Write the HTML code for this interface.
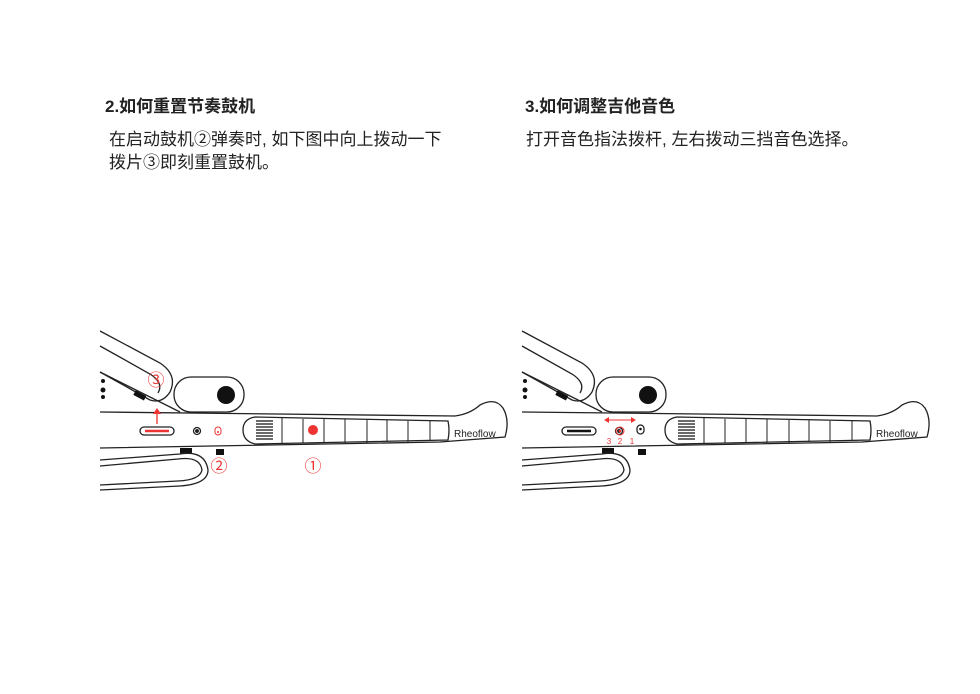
<!DOCTYPE html>
<html><head><meta charset="utf-8"><style>
body{margin:0;background:#fff;width:980px;height:694px;overflow:hidden;position:relative;font-family:"Liberation Sans","Noto Sans CJK SC",sans-serif;color:#222}
.t{position:absolute;font-weight:bold;font-size:17px}
.p{position:absolute;font-size:17px;line-height:23px}
</style></head><body>
<div class="t" style="left:105px;top:92px">2.如何重置节奏鼓机</div>
<div class="p" style="left:109px;top:128px">在启动鼓机②弹奏时, 如下图中向上拨动一下<br>拨片③即刻重置鼓机。</div>
<div class="t" style="left:525px;top:92px">3.如何调整吉他音色</div>
<div class="p" style="left:526px;top:128px">打开音色指法拨杆, 左右拨动三挡音色选择。</div>
<svg width="980" height="694" style="position:absolute;left:0;top:0" fill="none" stroke="#222" stroke-width="1.3">
<defs>
<g id="g">
<path d="M100 331 L160 363 Q178 375 170 392 Q162 404 150 400 L100 372"/>
<path d="M100 346 L150 374 Q164 383 158 393"/>
<path d="M100 372 L180 412"/>
<rect x="174" y="377" width="70" height="35" rx="17" fill="#fff"/>
<circle cx="226" cy="395" r="9" fill="#111" stroke="none"/>
<path d="M100 412 L455 416 Q470 414 480 405 Q495 397 503 408 Q510 420 505 437 L440 442 L100 448" fill="#fff"/>
<path d="M255 417 L448 421 Q450 430 448 440 L255 444 Q243 441 243 430 Q243 419 255 417Z"/>
<g stroke-width="1">
<path d="M282 418v25M303 419v24M324 419v24M345 419v24M367 420v23M387 420v22M408 421v21M430 421v20"/>
</g>
<g stroke="#111" stroke-width="1.3"><path d="M256 421h17M256 424h17M256 427h17M256 430h17M256 433h17M256 436h17M256 439h17"/></g>
<rect x="140" y="427" width="34" height="8" rx="4"/>
<circle cx="197" cy="431" r="3.5"/><circle cx="197" cy="431" r="1.3" fill="#111"/>
<text x="454" y="437" font-family="Liberation Sans" font-size="10" fill="#222" stroke="none">Rheoflow</text>
<rect x="180" y="448" width="12" height="6" fill="#111" stroke="none"/>
<rect x="216" y="449" width="8" height="6" fill="#111" stroke="none"/>
<path d="M100 460 L180 454 Q205 450 208 470 Q208 484 180 486 L100 490"/>
<path d="M100 466 L178 459 Q200 456 202 470 Q200 480 178 481 L100 485"/>
<rect x="134" y="393" width="12" height="5" fill="#111" stroke="none" transform="rotate(28 140 395)"/>
<circle cx="103" cy="381" r="2" fill="#111" stroke="none"/><circle cx="103" cy="390" r="2.5" fill="#111" stroke="none"/><circle cx="103" cy="397" r="2" fill="#111" stroke="none"/>
</g>
</defs>
<use href="#g"/>
<use href="#g" x="422"/>
<path d="M145 431h24" stroke="#e33" stroke-width="2.5"/>
<rect x="215" y="427" width="6" height="8" rx="3" stroke="#e33" stroke-width="1"/><circle cx="218" cy="432" r="1" fill="#e33" stroke="none"/>
<path d="M157 424V412" stroke="#e33" stroke-width="1.3"/><path d="M153 414L157 408L161 414Z" fill="#e33" stroke="none"/>
<circle cx="313" cy="430" r="5" fill="#e33" stroke="none"/>
<g fill="#e33" stroke="none" font-family="Noto Sans CJK SC,sans-serif" font-size="17" text-anchor="middle">
<text x="156" y="386">③</text><text x="219" y="472">②</text><text x="313" y="472">①</text></g>
<path d="M567 431h24" stroke="#111" stroke-width="2.5"/>
<rect x="637" y="425" width="7" height="9" rx="3.5"/><circle cx="640.5" cy="429" r="1.3" fill="#111" stroke="none"/>
<circle cx="620" cy="431" r="4" stroke="#e33" stroke-width="1"/><circle cx="620" cy="431" r="1.3" fill="#e33" stroke="none"/>
<path d="M607 420h26" stroke="#e33" stroke-width="1"/>
<path d="M604 420l5-3v6Z M636 420l-5-3v6Z" fill="#e33" stroke="none"/>
<g fill="#e33" stroke="none" font-family="Liberation Sans" font-size="8" text-anchor="middle">
<text x="609" y="444">3</text><text x="620" y="444">2</text><text x="632" y="444">1</text></g>
</svg>
</body></html>
